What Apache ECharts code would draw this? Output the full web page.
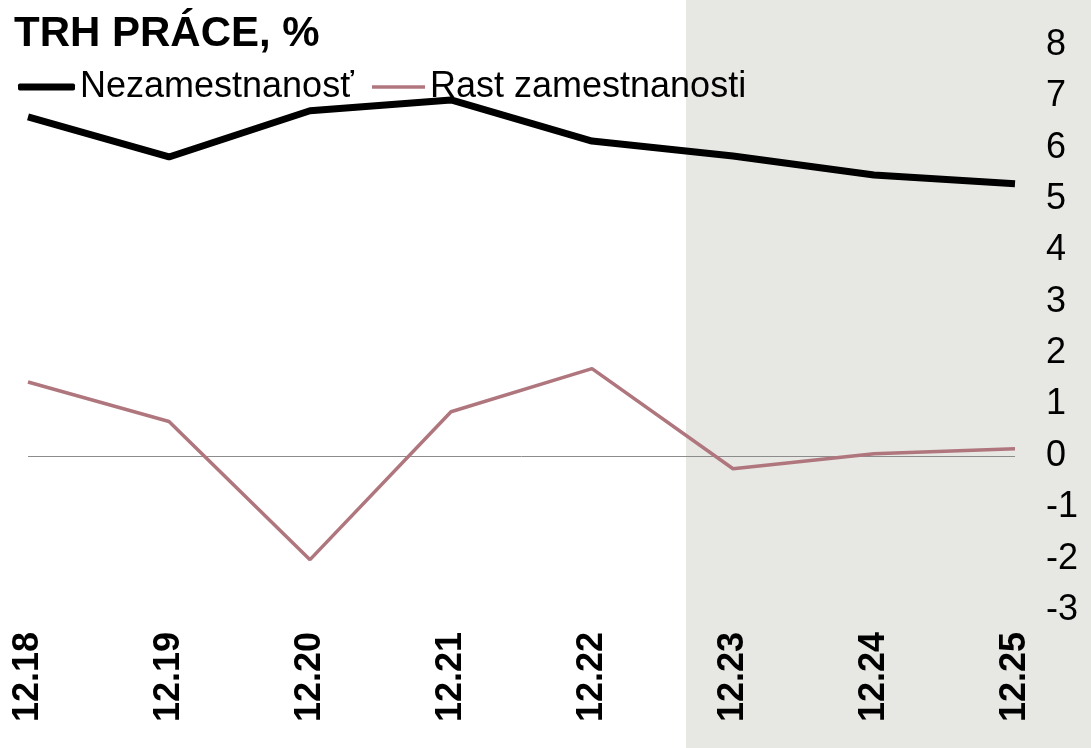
<!DOCTYPE html>
<html>
<head>
<meta charset="utf-8">
<script src="https://cdn.jsdelivr.net/npm/echarts@6/dist/echarts.min.js"></script>
<style>
  html, body { margin: 0; padding: 0; background: #fff; }
  #chart { width: 1091px; height: 748px; }
</style>
</head>
<body>
<div id="chart"></div>
<script>
// years on the x axis
const categories = ["12.18", "12.19", "12.20", "12.21", "12.22", "12.23", "12.24", "12.25"];
// Nezamestnanosť, %
const unemployment = [6.6, 5.82, 6.72, 6.93, 6.13, 5.84, 5.47, 5.3];
// Rast zamestnanosti, %
const employmentGrowth = [1.44, 0.67, -2.02, 0.86, 1.7, -0.25, 0.04, 0.14];

const font = "Liberation Sans, Arial, sans-serif";
const legendText = { fontSize: 36, color: "#000", fontFamily: font };
const chart = echarts.init(document.getElementById("chart"));

chart.setOption({
  animation: false,
  textStyle: { fontFamily: font },
  title: {
    text: "TRH PRÁCE, %",
    left: 14,
    top: 13,
    padding: 0,
    textStyle: { fontSize: 42, fontWeight: "bold", color: "#000", fontFamily: font }
  },
  // forecast shading on the right
  graphic: [
    {
      type: "rect",
      z: -10,
      silent: true,
      shape: { x: 686, y: 0, width: 405, height: 748 },
      style: { fill: "#e7e7e3" }
    }
  ],
  // two legends so each icon can have its own thickness
  legend: [
    {
      left: 18,
      top: 69,
      padding: 0,
      itemWidth: 57,
      itemHeight: 7,
      icon: "roundRect",
      textStyle: legendText,
      data: ["Nezamestnanosť"]
    },
    {
      left: 372,
      top: 69,
      padding: 0,
      itemWidth: 53,
      itemHeight: 3.5,
      icon: "rect",
      textStyle: legendText,
      data: ["Rast zamestnanosti"]
    }
  ],
  grid: { left: 28, right: 76, top: 45, bottom: 138, containLabel: false },
  xAxis: {
    type: "category",
    data: categories,
    boundaryGap: false,
    axisLine: { show: false, onZero: false },
    axisTick: { show: false },
    axisLabel: {
      rotate: 90,
      margin: 22,
      fontSize: 36,
      fontWeight: "bold",
      color: "#000",
      fontFamily: font
    }
  },
  yAxis: {
    type: "value",
    position: "right",
    min: -3,
    max: 8,
    interval: 1,
    splitLine: { show: false },
    axisLine: { show: false },
    axisTick: { show: false },
    axisLabel: { margin: 31, fontSize: 36, color: "#000", fontFamily: font }
  },
  series: [
    {
      name: "Rast zamestnanosti",
      type: "line",
      data: employmentGrowth,
      symbol: "none",
      z: 3,
      lineStyle: { color: "#b0767e", width: 3.5 },
      itemStyle: { color: "#b0767e" },
      markLine: {
        silent: true,
        symbol: "none",
        z: 1,
        label: { show: false },
        lineStyle: { color: "#8c8c8c", width: 1, type: "solid" },
        data: [{ yAxis: 0 }]
      }
    },
    {
      name: "Nezamestnanosť",
      type: "line",
      data: unemployment,
      symbol: "none",
      z: 4,
      lineStyle: { color: "#000", width: 7 },
      itemStyle: { color: "#000" }
    }
  ]
});
</script>
</body>
</html>
